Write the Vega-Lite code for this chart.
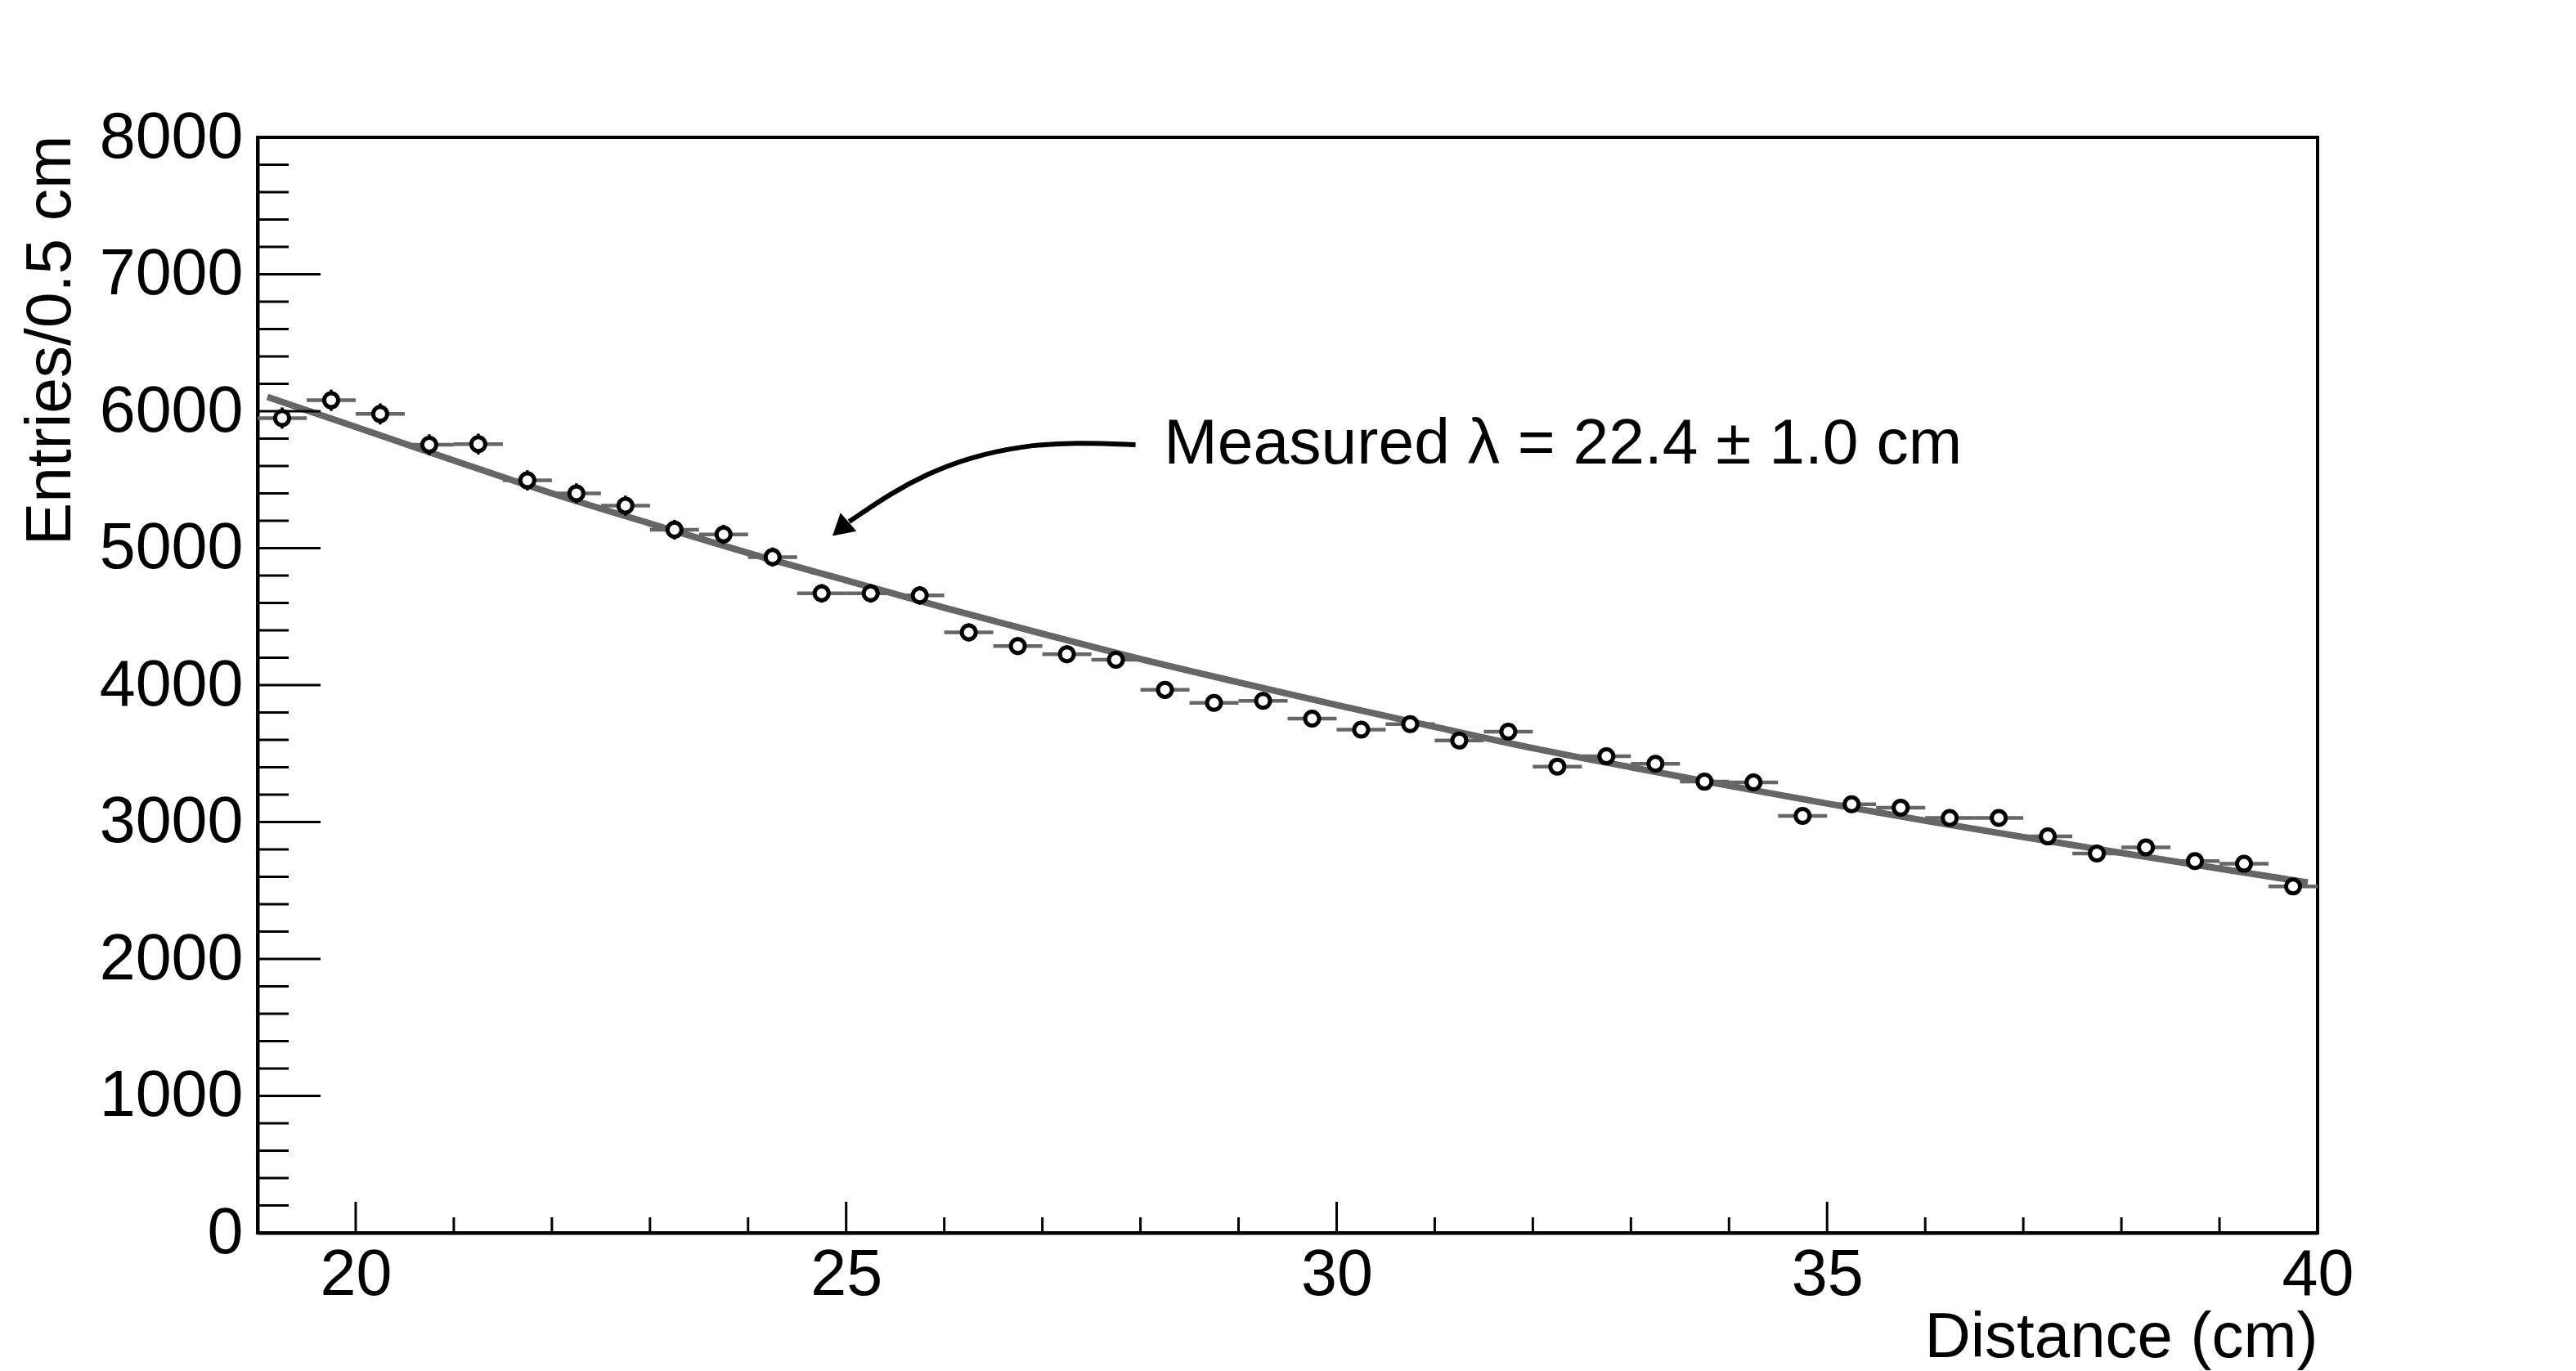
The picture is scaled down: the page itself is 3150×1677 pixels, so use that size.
{
  "$schema": "https://vega.github.io/schema/vega-lite/v6.json",
  "width": 2519,
  "height": 1340,
  "autosize": {"type": "none"},
  "padding": {"left": 315, "top": 168, "right": 316, "bottom": 169},
  "background": "white",
  "config": {
    "view": {"stroke": "black", "strokeWidth": 4},
    "font": "Liberation Sans",
    "text": {"font": "Liberation Sans"}
  },
  "datasets": {
    "points": [
      {"x": 19.25, "lo": 19.0, "hi": 19.5, "count": 5950, "err": 77},
      {"x": 19.75, "lo": 19.5, "hi": 20.0, "count": 6080, "err": 78},
      {"x": 20.25, "lo": 20.0, "hi": 20.5, "count": 5980, "err": 77},
      {"x": 20.75, "lo": 20.5, "hi": 21.0, "count": 5755, "err": 76},
      {"x": 21.25, "lo": 21.0, "hi": 21.5, "count": 5760, "err": 76},
      {"x": 21.75, "lo": 21.5, "hi": 22.0, "count": 5495, "err": 74},
      {"x": 22.25, "lo": 22.0, "hi": 22.5, "count": 5400, "err": 73},
      {"x": 22.75, "lo": 22.5, "hi": 23.0, "count": 5310, "err": 73},
      {"x": 23.25, "lo": 23.0, "hi": 23.5, "count": 5135, "err": 72},
      {"x": 23.75, "lo": 23.5, "hi": 24.0, "count": 5100, "err": 71},
      {"x": 24.25, "lo": 24.0, "hi": 24.5, "count": 4935, "err": 70},
      {"x": 24.75, "lo": 24.5, "hi": 25.0, "count": 4670, "err": 68},
      {"x": 25.25, "lo": 25.0, "hi": 25.5, "count": 4670, "err": 68},
      {"x": 25.75, "lo": 25.5, "hi": 26.0, "count": 4655, "err": 68},
      {"x": 26.25, "lo": 26.0, "hi": 26.5, "count": 4385, "err": 66},
      {"x": 26.75, "lo": 26.5, "hi": 27.0, "count": 4285, "err": 65},
      {"x": 27.25, "lo": 27.0, "hi": 27.5, "count": 4225, "err": 65},
      {"x": 27.75, "lo": 27.5, "hi": 28.0, "count": 4185, "err": 65},
      {"x": 28.25, "lo": 28.0, "hi": 28.5, "count": 3965, "err": 63},
      {"x": 28.75, "lo": 28.5, "hi": 29.0, "count": 3870, "err": 62},
      {"x": 29.25, "lo": 29.0, "hi": 29.5, "count": 3885, "err": 62},
      {"x": 29.75, "lo": 29.5, "hi": 30.0, "count": 3755, "err": 61},
      {"x": 30.25, "lo": 30.0, "hi": 30.5, "count": 3675, "err": 61},
      {"x": 30.75, "lo": 30.5, "hi": 31.0, "count": 3715, "err": 61},
      {"x": 31.25, "lo": 31.0, "hi": 31.5, "count": 3595, "err": 60},
      {"x": 31.75, "lo": 31.5, "hi": 32.0, "count": 3660, "err": 61},
      {"x": 32.25, "lo": 32.0, "hi": 32.5, "count": 3405, "err": 58},
      {"x": 32.75, "lo": 32.5, "hi": 33.0, "count": 3480, "err": 59},
      {"x": 33.25, "lo": 33.0, "hi": 33.5, "count": 3425, "err": 59},
      {"x": 33.75, "lo": 33.5, "hi": 34.0, "count": 3295, "err": 57},
      {"x": 34.25, "lo": 34.0, "hi": 34.5, "count": 3290, "err": 57},
      {"x": 34.75, "lo": 34.5, "hi": 35.0, "count": 3045, "err": 55},
      {"x": 35.25, "lo": 35.0, "hi": 35.5, "count": 3130, "err": 56},
      {"x": 35.75, "lo": 35.5, "hi": 36.0, "count": 3105, "err": 56},
      {"x": 36.25, "lo": 36.0, "hi": 36.5, "count": 3030, "err": 55},
      {"x": 36.75, "lo": 36.5, "hi": 37.0, "count": 3030, "err": 55},
      {"x": 37.25, "lo": 37.0, "hi": 37.5, "count": 2895, "err": 54},
      {"x": 37.75, "lo": 37.5, "hi": 38.0, "count": 2770, "err": 53},
      {"x": 38.25, "lo": 38.0, "hi": 38.5, "count": 2815, "err": 53},
      {"x": 38.75, "lo": 38.5, "hi": 39.0, "count": 2715, "err": 52},
      {"x": 39.25, "lo": 39.0, "hi": 39.5, "count": 2695, "err": 52},
      {"x": 39.75, "lo": 39.5, "hi": 40.0, "count": 2530, "err": 50}
    ],
    "curve": [
      {"x": 19.1, "y": 6105},
      {"x": 20, "y": 5885},
      {"x": 21, "y": 5640},
      {"x": 22, "y": 5400},
      {"x": 23, "y": 5180},
      {"x": 24, "y": 4965},
      {"x": 25, "y": 4765},
      {"x": 26, "y": 4565},
      {"x": 27, "y": 4375},
      {"x": 28, "y": 4190},
      {"x": 29, "y": 4020},
      {"x": 30, "y": 3855},
      {"x": 31, "y": 3695},
      {"x": 32, "y": 3540},
      {"x": 33, "y": 3400},
      {"x": 34, "y": 3265},
      {"x": 35, "y": 3135},
      {"x": 36, "y": 3010},
      {"x": 37, "y": 2890},
      {"x": 38, "y": 2775},
      {"x": 39, "y": 2660},
      {"x": 39.9, "y": 2558}
    ],
    "xminor": [
      {"v": 21}, {"v": 22}, {"v": 23}, {"v": 24}, {"v": 26}, {"v": 27}, {"v": 28}, {"v": 29},
      {"v": 31}, {"v": 32}, {"v": 33}, {"v": 34}, {"v": 36}, {"v": 37}, {"v": 38}, {"v": 39}
    ],
    "xmajor": [{"v": 20}, {"v": 25}, {"v": 30}, {"v": 35}],
    "yminor": [
      {"v": 200}, {"v": 400}, {"v": 600}, {"v": 800},
      {"v": 1200}, {"v": 1400}, {"v": 1600}, {"v": 1800},
      {"v": 2200}, {"v": 2400}, {"v": 2600}, {"v": 2800},
      {"v": 3200}, {"v": 3400}, {"v": 3600}, {"v": 3800},
      {"v": 4200}, {"v": 4400}, {"v": 4600}, {"v": 4800},
      {"v": 5200}, {"v": 5400}, {"v": 5600}, {"v": 5800},
      {"v": 6200}, {"v": 6400}, {"v": 6600}, {"v": 6800},
      {"v": 7200}, {"v": 7400}, {"v": 7600}, {"v": 7800}
    ],
    "ymajor": [{"v": 1000}, {"v": 2000}, {"v": 3000}, {"v": 4000}, {"v": 5000}, {"v": 6000}, {"v": 7000}],
    "arrow": [
      {"o": 1, "x": 27.95, "y": 5755},
      {"o": 2, "x": 27.35, "y": 5773},
      {"o": 3, "x": 26.8, "y": 5749},
      {"o": 4, "x": 26.24, "y": 5660},
      {"o": 5, "x": 25.82, "y": 5540},
      {"o": 6, "x": 25.46, "y": 5401},
      {"o": 7, "x": 25.13, "y": 5242},
      {"o": 8, "x": 25.03, "y": 5194}
    ],
    "arrowhead": [{"x": 24.942, "y": 5140}],
    "annot": [{"x": 28.24, "y": 5618, "label": "Measured λ = 22.4 ± 1.0 cm"}]
  },
  "layer": [
    {
      "data": {"name": "points"},
      "mark": {"type": "rule", "color": "#666666", "strokeWidth": 4.5},
      "encoding": {
        "x": {
          "field": "lo", "type": "quantitative",
          "title": "Distance (cm)",
          "scale": {"domain": [19, 40], "nice": false, "zero": false},
          "axis": {
            "values": [20, 25, 30, 35, 40],
            "format": "d",
            "ticks": false,
            "grid": false,
            "domain": true,
            "domainColor": "black",
            "domainWidth": 4,
            "labelFont": "Liberation Sans",
            "labelFontSize": 79,
            "labelColor": "black",
            "labelPadding": 13,
            "labelFlush": false,
            "labelOverlap": false,
            "labelLimit": 0,
            "title": "Distance (cm)",
            "titleFont": "Liberation Sans",
            "titleFontSize": 78,
            "titleFontWeight": "normal",
            "titleColor": "black",
            "titleX": 2519,
            "titleY": 151,
            "titleAlign": "right",
            "titleBaseline": "alphabetic"
          }
        },
        "x2": {"field": "hi"},
        "y": {
          "field": "count", "type": "quantitative",
          "title": "Entries/0.5 cm",
          "scale": {"domain": [0, 8000], "nice": false, "zero": true},
          "axis": {
            "values": [0, 1000, 2000, 3000, 4000, 5000, 6000, 7000, 8000],
            "format": "d",
            "ticks": false,
            "grid": false,
            "domain": true,
            "domainColor": "black",
            "domainWidth": 4,
            "labelFont": "Liberation Sans",
            "labelFontSize": 79,
            "labelColor": "black",
            "labelPadding": 18,
            "labelFlush": false,
            "labelOverlap": false,
            "labelLimit": 0,
            "title": "Entries/0.5 cm",
            "titleFont": "Liberation Sans",
            "titleFontSize": 78.5,
            "titleFontWeight": "normal",
            "titleColor": "black",
            "titleX": -230,
            "titleY": -3,
            "titleAngle": 270,
            "titleAlign": "right",
            "titleBaseline": "alphabetic"
          }
        }
      }
    },
    {
      "data": {"name": "curve"},
      "mark": {"type": "line", "color": "#666666", "strokeWidth": 8, "interpolate": "monotone"},
      "encoding": {
        "x": {"field": "x", "type": "quantitative", "title": "Distance (cm)"},
        "y": {"field": "y", "type": "quantitative", "title": "Entries/0.5 cm"}
      }
    },
    {
      "data": {"name": "points"},
      "mark": {"type": "errorbar", "color": "black", "thickness": 3.5},
      "encoding": {
        "x": {"field": "x", "type": "quantitative", "title": "Distance (cm)"},
        "y": {"field": "count", "type": "quantitative", "title": "Entries/0.5 cm"},
        "yError": {"field": "err"}
      }
    },
    {
      "data": {"name": "points"},
      "mark": {"type": "point", "shape": "circle", "filled": true, "fill": "white", "stroke": "black", "strokeWidth": 5, "size": 290, "opacity": 1},
      "encoding": {
        "x": {"field": "x", "type": "quantitative", "title": "Distance (cm)"},
        "y": {"field": "count", "type": "quantitative", "title": "Entries/0.5 cm"}
      }
    },
    {
      "data": {"name": "xminor"},
      "mark": {"type": "tick", "orient": "vertical", "size": 38, "thickness": 3, "color": "black", "opacity": 1, "clip": true},
      "encoding": {
        "x": {"field": "v", "type": "quantitative", "title": "Distance (cm)"},
        "y": {"datum": 0, "type": "quantitative"}
      }
    },
    {
      "data": {"name": "xmajor"},
      "mark": {"type": "tick", "orient": "vertical", "size": 76, "thickness": 3, "color": "black", "opacity": 1, "clip": true},
      "encoding": {
        "x": {"field": "v", "type": "quantitative", "title": "Distance (cm)"},
        "y": {"datum": 0, "type": "quantitative"}
      }
    },
    {
      "data": {"name": "yminor"},
      "mark": {"type": "tick", "orient": "horizontal", "size": 76, "thickness": 3, "color": "black", "opacity": 1, "clip": true},
      "encoding": {
        "y": {"field": "v", "type": "quantitative", "title": "Entries/0.5 cm"},
        "x": {"datum": 19, "type": "quantitative"}
      }
    },
    {
      "data": {"name": "ymajor"},
      "mark": {"type": "tick", "orient": "horizontal", "size": 154, "thickness": 3, "color": "black", "opacity": 1, "clip": true},
      "encoding": {
        "y": {"field": "v", "type": "quantitative", "title": "Entries/0.5 cm"},
        "x": {"datum": 19, "type": "quantitative"}
      }
    },
    {
      "data": {"name": "arrow"},
      "mark": {"type": "line", "color": "black", "strokeWidth": 6, "interpolate": "basis"},
      "encoding": {
        "x": {"field": "x", "type": "quantitative", "title": "Distance (cm)"},
        "y": {"field": "y", "type": "quantitative", "title": "Entries/0.5 cm"},
        "order": {"field": "o"}
      }
    },
    {
      "data": {"name": "arrowhead"},
      "mark": {"type": "point", "shape": "triangle-down", "filled": true, "color": "black", "size": 900, "angle": 49, "opacity": 1},
      "encoding": {
        "x": {"field": "x", "type": "quantitative", "title": "Distance (cm)"},
        "y": {"field": "y", "type": "quantitative", "title": "Entries/0.5 cm"}
      }
    },
    {
      "data": {"name": "annot"},
      "mark": {"type": "text", "align": "left", "baseline": "alphabetic", "fontSize": 78.6, "font": "Liberation Sans", "color": "black"},
      "encoding": {
        "x": {"field": "x", "type": "quantitative", "title": "Distance (cm)"},
        "y": {"field": "y", "type": "quantitative", "title": "Entries/0.5 cm"},
        "text": {"field": "label"}
      }
    }
  ]
}
